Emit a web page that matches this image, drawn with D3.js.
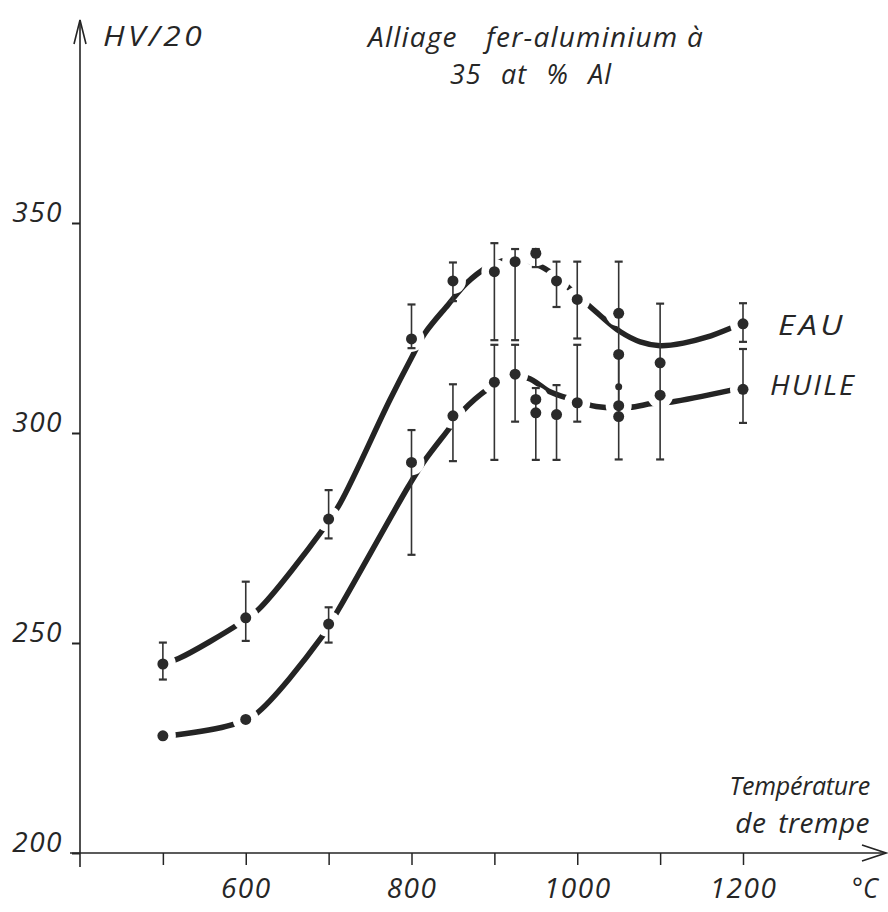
<!DOCTYPE html>
<html><head><meta charset="utf-8">
<script src="https://cdn.jsdelivr.net/npm/d3@7"></script>
<style>
html,body{margin:0;padding:0;background:#fff;}
svg text{font-family:"Open Sans",sans-serif;font-style:italic;fill:#262626;}
</style></head><body>
<svg id="chart" width="888" height="912"></svg>
<script>
// ---------- data ----------
const temps     = [500, 600, 700, 800, 850, 900, 925, 950, 975, 1000, 1050, 1100, 1200];
const eauHV     = [245.0, 256.0, 279.5, 322.4, 336.2, 338.4, 340.8, 342.8, 336.2, 331.8, 328.5, 316.7, 326.0];
const eauLow    = [241.3, 250.5, 274.9, 320.2, 331.4, 322.1, 322.1, 339.5, 330.0, 322.5, 306.0, 316.7, 321.7];
const eauHigh   = [250.1, 264.6, 286.4, 330.6, 340.6, 345.2, 343.8, 343.8, 340.8, 340.8, 340.8, 330.8, 330.9];
const huileHV   = [227.9, 231.8, 254.5, 293.0, 304.1, 312.1, 314.0, 308.0, 304.4, 307.2, 306.5, 309.0, 310.4];
const huileLow  = [null, null, 250.1, 271.0, 293.3, 293.6, 302.7, 293.6, 293.6, 302.7, 293.7, 293.7, 302.4];
const huileHigh = [null, null, 258.5, 300.7, 311.6, 321.0, 321.0, 310.7, 311.4, 321.0, 318.7, 316.7, 320.0];
// additional single measurements
const extraT    = [950, 1050, 1050];
const extraHV   = [304.8, 318.7, 303.9];
const smallT    = [1050];
const smallHV   = [311.0];
// hand-drawn trend curves (traced)
const eauCurveT  = [500, 519, 593, 615, 694, 714, 774, 800, 816, 844, 866, 891, 915, 940, 967, 997, 1027, 1052, 1076, 1100, 1128, 1156, 1184];
const eauCurveHV = [245.0, 246.3, 254.7, 257.9, 277.3, 283.3, 307.9, 317.9, 323.7, 330.5, 335.6, 339.4, 341.2, 341.0, 338.4, 333.3, 328.1, 324.1, 321.7, 320.8, 321.4, 322.8, 324.9];
const huileCurveT  = [500, 515, 583, 611, 692, 712, 796, 814, 844, 862, 893, 915, 940, 967, 987, 1023, 1063, 1090, 1114, 1186];
const huileCurveHV = [227.9, 228.1, 230.5, 232.9, 251.5, 258.0, 287.2, 292.9, 300.7, 305.3, 310.6, 313.0, 313.1, 309.8, 308.4, 306.3, 306.1, 307.0, 307.4, 310.2];
// axes
const xTickValues = [500, 600, 700, 800, 900, 1000, 1100, 1200];
const xTickLabels = [600, 800, 1000, 1200];
const yTickValues = [200, 250, 300, 350];
const yLabel = "HV/20";
const titleLines = ["Alliage fer-aluminium à", "35 at % Al"];
const xLabelLines = ["Température", "de trempe"];
const xUnit = "°C";
const seriesNames = ["EAU", "HUILE"];

// ---------- drawing ----------
const svg = d3.select("#chart");
svg.append("rect").attr("width", 888).attr("height", 912).attr("fill", "#fff");

const x = d3.scaleLinear().domain([400, 1200]).range([80, 743]);
const y = d3.scaleLinear().domain([200, 350]).range([853, 223]);
const ink = "#242424";
const FS = 28;

// axes lines + arrows
const ax = svg.append("g").attr("stroke", ink).attr("fill", "none").attr("stroke-width", 1.6);
ax.append("line").attr("x1", 70).attr("x2", 885).attr("y1", y(200)).attr("y2", y(200));
ax.append("line").attr("x1", x(400)).attr("x2", x(400)).attr("y1", 867).attr("y2", 20);
ax.append("path").attr("d", `M${x(400)-6},44 L${x(400)},20 L${x(400)+6},44`);
ax.append("path").attr("d", `M862,${y(200)-8} L886,${y(200)} L862,${y(200)+8}`);

const xAxis = svg.append("g").attr("transform", `translate(0,${y(200)})`)
  .call(d3.axisBottom(x).tickValues(xTickValues).tickSize(12)
        .tickFormat(d => xTickLabels.includes(d) ? d : ""));
xAxis.select(".domain").remove();
xAxis.selectAll("line").attr("stroke", ink).attr("stroke-width", 1.5);
xAxis.selectAll("text").attr("y", 45).attr("dy", 0).attr("font-size", FS).attr("fill", "#262626")
  .attr("letter-spacing", 1.5)
  .style("font-family", '"Open Sans",sans-serif').style("font-style", "italic");

const yAxis = svg.append("g").attr("transform", `translate(${x(400)},0)`)
  .call(d3.axisLeft(y).tickValues(yTickValues).tickSize(8).tickPadding(9));
yAxis.select(".domain").remove();
yAxis.selectAll("line").attr("stroke", ink).attr("stroke-width", 2);
yAxis.selectAll("text").attr("dy", -2).attr("font-size", FS).attr("fill", "#262626")
  .attr("letter-spacing", 1.5)
  .style("font-family", '"Open Sans",sans-serif').style("font-style", "italic");

// curves
const line = d3.line().x(d => x(d[0])).y(d => y(d[1])).curve(d3.curveCatmullRom.alpha(0.5));
const curves = svg.append("g").attr("fill", "none").attr("stroke", ink)
  .attr("stroke-width", 5.5).attr("stroke-linecap", "round");
curves.append("path").attr("d", line(eauCurveT.map((t, i) => [t, eauCurveHV[i]])));
curves.append("path").attr("d", line(huileCurveT.map((t, i) => [t, huileCurveHV[i]])));

// white halos around the measured points (breaks in the drawn curve)
const halos = svg.append("g").attr("fill", "#fff");
temps.forEach((t, i) => {
  halos.append("circle").attr("cx", x(t)).attr("cy", y(eauHV[i])).attr("r", 13);
  halos.append("circle").attr("cx", x(t)).attr("cy", y(huileHV[i])).attr("r", 13);
});

// error bars
const eb = svg.append("g").attr("stroke", "#333").attr("fill", "none");
function errBar(t, lo, hi) {
  if (lo == null || hi == null) return;
  const cx = x(t);
  eb.append("line").attr("x1", cx).attr("x2", cx).attr("y1", y(lo)).attr("y2", y(hi)).attr("stroke-width", 1.6);
  [lo, hi].forEach(v => eb.append("line").attr("x1", cx - 4).attr("x2", cx + 4)
    .attr("y1", y(v)).attr("y2", y(v)).attr("stroke-width", 2.2));
}
temps.forEach((t, i) => { errBar(t, eauLow[i], eauHigh[i]); errBar(t, huileLow[i], huileHigh[i]); });

// markers
const mk = svg.append("g").attr("fill", "#2a2a2a");
temps.forEach((t, i) => {
  mk.append("circle").attr("cx", x(t)).attr("cy", y(eauHV[i])).attr("r", 5.5);
  mk.append("circle").attr("cx", x(t)).attr("cy", y(huileHV[i])).attr("r", 5.5);
});
extraT.forEach((t, i) => mk.append("circle").attr("cx", x(t)).attr("cy", y(extraHV[i])).attr("r", 5.5));
smallT.forEach((t, i) => mk.append("circle").attr("cx", x(t)).attr("cy", y(smallHV[i])).attr("r", 3.5));

// texts (widths fitted to the reference lettering)
const tx = svg.append("g").attr("font-size", FS);
function label(px, py, str, len, ls, ws) {
  const t = tx.append("text").attr("x", px).attr("y", py).text(str);
  if (ls) t.attr("letter-spacing", ls);
  if (ws) t.attr("word-spacing", ws);
  if (len) t.attr("textLength", len).attr("lengthAdjust", "spacingAndGlyphs");
  return t;
}
label(103, 46, yLabel, 102, 3);
// title line 1: wider gap after the first word
{
  const words = titleLines[0].split(" ");
  const t = tx.append("text").attr("x", 368).attr("y", 47).attr("letter-spacing", 1.2);
  t.append("tspan").text(words[0]);
  t.append("tspan").attr("dx", 20).text(" " + words.slice(1).join(" "));
}
label(450, 84, titleLines[1], 162, 1, 12);
label(778, 335, seriesNames[0], 68, 3);
label(770, 395, seriesNames[1], 86, 2);
tx.append("text").attr("x", 870).attr("y", 795).attr("text-anchor", "end")
  .attr("font-size", 25).attr("letter-spacing", -0.2).text(xLabelLines[0]);
tx.append("text").attr("x", 870).attr("y", 833).attr("text-anchor", "end")
  .attr("letter-spacing", 0.5).attr("word-spacing", 4).text(xLabelLines[1]);
label(852, 898, xUnit, 26);
</script>
</body></html>
